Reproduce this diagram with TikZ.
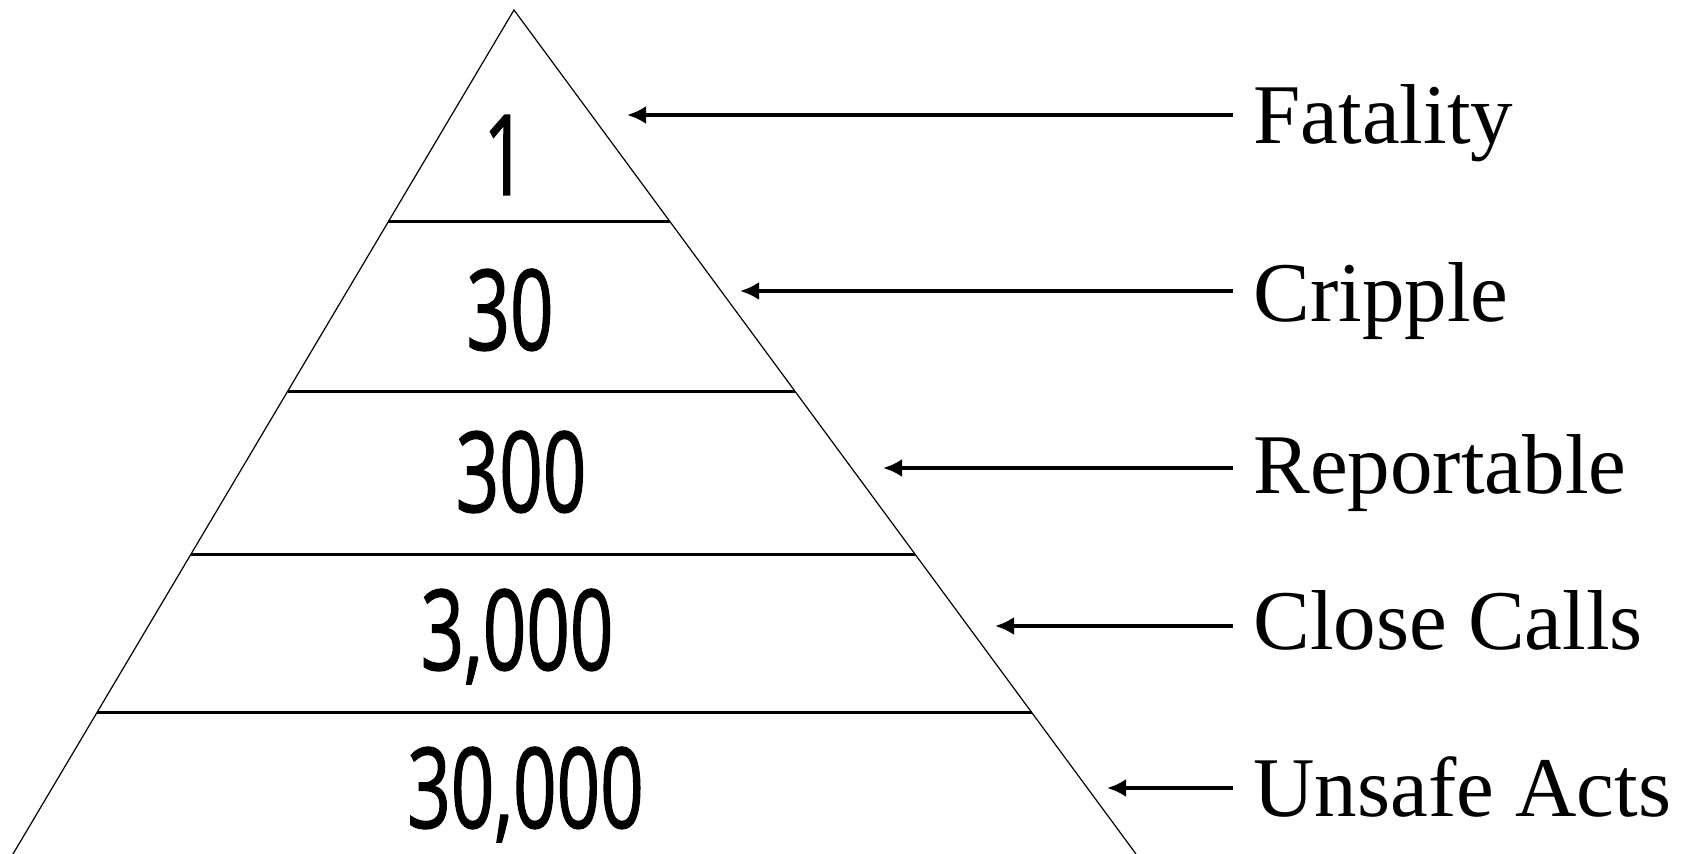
\documentclass[tikz,border=0pt]{standalone}
\usepackage{fontspec}
\setmainfont{Liberation Serif}
\newfontfamily\numfont[FakeStretch=0.68,FakeBold=1]{Open Sans}
\usetikzlibrary{arrows.meta,calc}
\begin{document}
\begin{tikzpicture}[x=0.5pt,y=-0.5pt,
 side/.style={line width=0.6pt},
 tier/.style={line width=1.4pt},
 arr/.style={line width=1.8pt,-{Latex[length=9.5pt,width=9pt]}},
 lbl/.style={anchor=base west,inner xsep=10pt,inner ysep=0pt,font=\fontsize{42.5pt}{50pt}\selectfont},
 num/.style={anchor=base,inner sep=0pt,font=\numfont\fontsize{56pt}{60pt}\selectfont}]
\useasboundingbox (0,0) rectangle (1682,854);
\coordinate (apex) at (514,10);
\coordinate (bl) at (13,854);
\coordinate (br) at (1136,854);
\draw[side] (bl) -- (apex) -- (br);
\foreach \t in {0.2508,0.452,0.6453,0.8321} {
 \draw[tier] ($(apex)!\t!(bl)$) -- ($(apex)!\t!(br)$);
}
\node[num] (n1) at (505,195) {1};
\node[num] (n2) at (510,350) {30};
\node[num] (n3) at (521,512) {300};
\node[num] (n4) at (517,670) {3,000};
\node[num] (n5) at (525.5,828) {30,000};
\node[lbl] (l1) at (1233,144) {Fatality};
\node[lbl] (l2) at (1233,322) {Cripple};
\node[lbl] (l3) at (1233,494) {Reportable};
\node[lbl] (l4) at (1233,650) {Close Calls};
\node[lbl] (l5) at (1233,817) {Unsafe Acts};
\coordinate (t1) at (627,115);
\coordinate (t2) at (740,291);
\coordinate (t3) at (883,468);
\coordinate (t4) at (995,626);
\coordinate (t5) at (1107,788);
\foreach \i in {1,...,5} {
 \draw[arr] (t\i -| l\i.west) -- (t\i);
}
\end{tikzpicture}
\end{document}
